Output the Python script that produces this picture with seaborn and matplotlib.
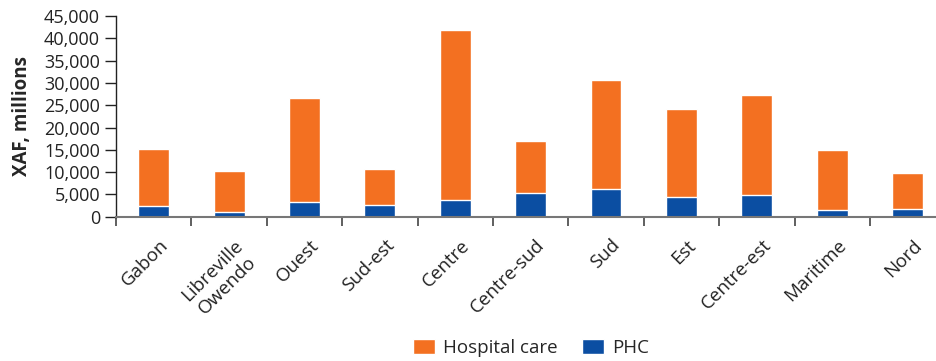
import numpy as np
import pandas as pd
import seaborn as sns
import matplotlib.pyplot as plt
import matplotlib.transforms as mtransforms
from matplotlib.ticker import FuncFormatter, FixedLocator

regions = ["Gabon", "Libreville\nOwendo", "Ouest", "Sud-est", "Centre", "Centre-sud",
           "Sud", "Est", "Centre-est", "Maritime", "Nord"]
phc = [2400, 1050, 3300, 2600, 3750, 5300, 6200, 4400, 4850, 1500, 1700]
hospital = [12800, 9200, 23350, 8100, 38150, 11700, 24500, 19800, 22450, 13500, 8100]

orange = "#F37021"
blue = "#0B4EA2"

df = pd.DataFrame({"region": regions, "phc": phc, "hospital": hospital})
df["total"] = df.phc + df.hospital

sns.set_style("white")
plt.rcParams["font.family"] = ["Open Sans", "DejaVu Sans"]

fig = plt.figure(figsize=(9.37, 3.61), dpi=100)
ax = fig.add_axes([0.1238, 0.3997, 0.8762, 0.556])

sns.barplot(data=df, x="region", y="total", color=orange, width=0.41,
            saturation=1, ax=ax, label="Hospital care")
sns.barplot(data=df, x="region", y="phc", color=blue, width=0.41,
            saturation=1, ax=ax, label="PHC")

ax.set_ylim(0, 45000)
ax.set_xlim(-0.5, 10.39)
ax.set_yticks(np.arange(0, 45001, 5000))
ax.yaxis.set_major_formatter(FuncFormatter(lambda v, p: f"{int(v):,}"))
ax.tick_params(axis="y", labelsize=13, length=8, width=1, color="#222222",
               left=True, pad=3.5, labelcolor="#222222")

# boundary ticks as majors, labels as minors at category centres
ax.xaxis.set_major_locator(FixedLocator(np.arange(-0.5, 11, 1)))
ax.xaxis.set_minor_locator(FixedLocator(np.arange(0, 11)))
ax.set_xticklabels([], minor=False)
ax.set_xticklabels(regions, minor=True, rotation=45, ha="right", va="top",
                   rotation_mode="anchor", fontsize=13.5,
                   color="#222222", multialignment="center")
ax.tick_params(axis="x", which="major", length=6.5, width=1.2, color="#444444",
               bottom=True, direction="out")
ax.tick_params(axis="x", which="minor", length=0, pad=14)
shift = mtransforms.ScaledTranslation(5 / 100, 0, fig.dpi_scale_trans)
for lab in ax.get_xticklabels(minor=True):
    lab.set_transform(lab.get_transform() + shift)

ax.set_xlabel("")
ax.set_ylabel("XAF, millions", fontsize=13.5, fontweight="bold", labelpad=9)

for s in ["top", "right"]:
    ax.spines[s].set_visible(False)
ax.spines["left"].set_color("#222222")
ax.spines["left"].set_linewidth(1)
ax.spines["bottom"].set_color("#777777")
ax.spines["bottom"].set_linewidth(1.5)

if ax.get_legend():
    ax.get_legend().remove()
handles, labels = ax.get_legend_handles_labels()
fig.legend(handles, labels, loc="center", bbox_to_anchor=(0.567, 0.036),
           ncol=2, frameon=False, fontsize=13.5, handlelength=1.15,
           handleheight=0.8, columnspacing=1.3, handletextpad=0.45)

fig.savefig("out.png", dpi=100)
